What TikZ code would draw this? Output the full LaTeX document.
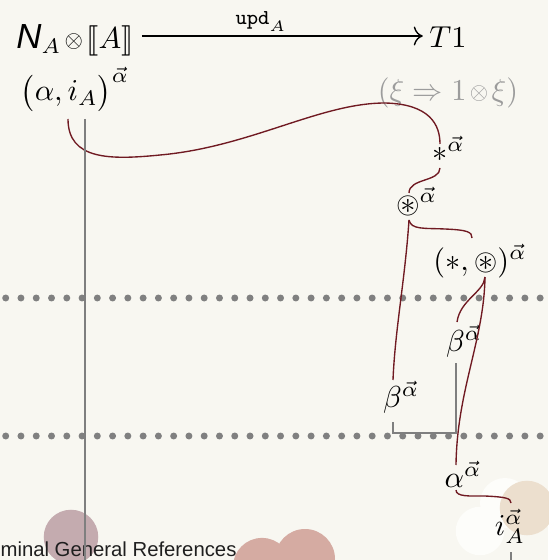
\documentclass[tikz,border=0pt]{standalone}
\usepackage{amsmath,amssymb,stmaryrd}
\usepackage{fontspec}
\newfontfamily\sansN{Liberation Sans}
\usetikzlibrary{arrows.meta}
\definecolor{bgc}{HTML}{F8F7F1}
\definecolor{wirec}{HTML}{701A22}
\definecolor{gwc}{HTML}{7F7F7F}
\definecolor{gtext}{HTML}{9C9C9C}
\definecolor{dotc}{HTML}{808080}
\definecolor{beige}{HTML}{ECDFCE}
\definecolor{whitish}{HTML}{FDFDFA}
\definecolor{mauve}{HTML}{C4ABAF}
\definecolor{pinkc}{HTML}{D5ABA2}
\newcommand{\smot}{\mskip2mu\vcenter{\hbox{\scalebox{0.78}{$\otimes$}}}\mskip2mu}
\newcommand{\va}{\vec{\alpha}}
\begin{document}
\begin{tikzpicture}[x=0.33pt,y=-0.33pt,
  lab/.style={inner sep=0pt, anchor=base},
  wire/.style={draw=wirec, line width=0.45pt},
  gwire/.style={draw=gwc, line width=0.65pt},
  dotrow/.style={fill=dotc}]
\fill[bgc] (0,0) rectangle (548,560);
\useasboundingbox (0,0) rectangle (548,560);
% background blobs
\fill[whitish] (505,503) circle[radius=8.25pt];
\fill[whitish] (480,531) circle[radius=8pt];
\fill[beige] (527,508) circle[radius=9pt];
\fill[mauve] (71,537) circle[radius=9pt];
\fill[pinkc] (262,567) circle[radius=9.6pt];
\fill[pinkc] (305,559) circle[radius=9.9pt];
\node[anchor=base west, inner sep=0pt, text=black!88, font=\sansN\fontsize{6.7}{7}\selectfont] (foot) at (0,556) {minal General References};
% dotted rows
\foreach \k in {0,...,35} {
  \fill[dotrow] (5.7+15.27*\k,298) circle[radius=1.15pt];
  \fill[dotrow] (5.7+15.27*\k,436) circle[radius=1.15pt];
}
% top row
\node[lab] (top) at (75,49) {$\hbox{\sansN\itshape\fontsize{11.5}{12}\selectfont N}_A\smot\llbracket A\rrbracket$};
\node[lab] (T1) at (448,48) {$T1$};
\node[lab] (upd) at (261,25) {$\scriptstyle\mathtt{upd}_A$};
\coordinate (arrowrow) at (0,36);
\draw[-{To[length=3pt]}, line width=0.45pt] ([xshift=2.5pt]top.east |- arrowrow) -- ([xshift=-2pt]T1.west |- arrowrow);
% labels
\node[lab] (pair) at (75,101) {$\bigl(\alpha, i_A\bigr)^{\va}$};
\node[lab, text=gtext] (xi) at (448,101) {$(\xi\Rightarrow 1\smot\xi)$};
\node[lab] (ast) at (448.5,162) {$\ast^{\va}$};
\node[lab] (oast) at (416.5,213) {$\circledast^{\va}$};
\node[lab] (pairb) at (480,270) {$(\ast,\circledast)^{\va}$};
\node[lab] (betaU) at (464,351) {$\beta^{\va}$};
\node[lab] (betaL) at (401,407) {$\beta^{\va}$};
\node[lab] (alph) at (463,487) {$\alpha^{\va}$};
\node[lab] (iA) at (510,535) {$i_A^{\va}$};
% wire end points
\coordinate (p1) at (68,119);
\coordinate (p2) at (440,144);
\coordinate (p3) at (440,168);
\coordinate (p4) at (409,193);
\coordinate (p5) at (409,220);
\coordinate (p6) at (393,380);
\coordinate (p7) at (472,238);
\coordinate (p8) at (485,277);
\coordinate (p9) at (457,322);
\coordinate (p10) at (456,465);
\coordinate (p11) at (456,490);
\coordinate (p12) at (511,503);
% red wires
\draw[wire] (p1) .. controls (68,160) and (110,160) .. (160,155)
  .. controls (250,147) and (320,103) .. (385,103)
  .. controls (430,104) and (440,125) .. (p2);
\draw[wire] (p3) .. controls (440,182) and (409,178) .. (p4);
\draw[wire] (p5) .. controls (405,280) and (395,330) .. (p6);
\draw[wire] (p5) .. controls (411,230) and (425,228) .. (445,229)
  .. controls (468,230) and (472,232) .. (p7);
\draw[wire] (p8) .. controls (484,292) and (460,300) .. (p9);
\draw[wire] (p8) .. controls (484,340) and (457,390) .. (p10);
\draw[wire] (p11) .. controls (456,497) and (470,496) .. (485,496)
  .. controls (505,497) and (511,498) .. (p12);
% gray wires
\coordinate (g1a) at (85,119);
\coordinate (g1b) at (85,560);
\draw[gwire] (g1a) -- (g1b);
\coordinate (g2a) at (393,422);
\coordinate (g2b) at (456,363);
\draw[gwire, line width=0.5pt] (g2a) -- (393,433) -- (456,433) -- (g2b);
\coordinate (g3a) at (511,552);
\coordinate (g3b) at (511,560);
\draw[gwire, line width=0.5pt] (g3a) -- (g3b);
\end{tikzpicture}
\end{document}
